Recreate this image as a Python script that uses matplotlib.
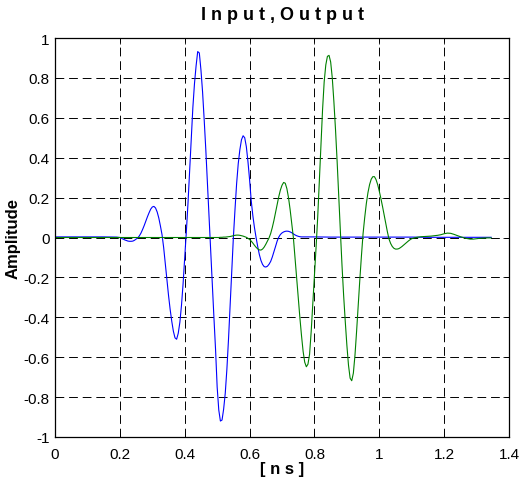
import numpy as np
import matplotlib
matplotlib.use("Agg")
import matplotlib.pyplot as plt


def grid(a, b, step):
    return np.round(np.arange(a, b + step / 2, step), 3)


# --- input pulse (blue) ---
t_in = np.concatenate([grid(0, 0.15, 0.05), [0.19], grid(0.2, 0.76, 0.005),
                       [0.78], grid(0.8, 1.3, 0.05), [1.345]])
v_in = [
    0.003, 0.003, 0.003, 0.003, 0.002,
    0.000, -0.004, -0.008, -0.012, -0.015, -0.018, -0.019, -0.019, -0.018, -0.014,
    -0.008, -0.002, 0.008, 0.022, 0.040, 0.060, 0.082, 0.104, 0.124, 0.142,
    0.153, 0.156, 0.148, 0.128, 0.098, 0.058, 0.014, -0.050, -0.130, -0.215,
    -0.290, -0.360, -0.420, -0.470, -0.503, -0.510, -0.480, -0.425, -0.340, -0.230,
    -0.100, 0.030, 0.170, 0.330, 0.500, 0.650, 0.770, 0.860, 0.932, 0.925,
    0.840, 0.730, 0.590, 0.440, 0.270, 0.100, -0.070, -0.240, -0.400, -0.560,
    -0.750, -0.865, -0.920, -0.915, -0.860, -0.780, -0.660, -0.510, -0.340, -0.170,
    0.000, 0.140, 0.270, 0.370, 0.440, 0.490, 0.510, 0.500, 0.455, 0.380,
    0.290, 0.185, 0.110, 0.050, 0.000, -0.045, -0.085, -0.115, -0.135, -0.146,
    -0.148, -0.144, -0.134, -0.120, -0.098, -0.072, -0.045, -0.018, 0.002, 0.015,
    0.023, 0.028, 0.031, 0.032, 0.031, 0.028, 0.024, 0.018, 0.013, 0.009,
    0.006, 0.004, 0.003,
    0.003, 0.003, 0.002, 0.002, 0.002, 0.002, 0.002, 0.002, 0.001, 0.001,
    0.001, 0.001, 0.001,
]

# --- output pulse (green) ---
t_out = np.concatenate([grid(0, 0.45, 0.05), grid(0.5, 1.1, 0.005),
                        grid(1.11, 1.34, 0.01), [1.345]])
v_out = [
    0.0, 0.0, 0.0, 0.0, 0.0, 0.0, 0.0, 0.0, 0.0, 0.0,
    0.000, 0.000, 0.001, 0.001, 0.002, 0.002, 0.003, 0.004, 0.005, 0.007,
    0.009, 0.011, 0.012, 0.012, 0.011, 0.009, 0.007, 0.004, 0.001, -0.004,
    -0.010, -0.018, -0.028, -0.039, -0.049, -0.057, -0.062, -0.063, -0.058, -0.048,
    -0.034, -0.018, -0.002, 0.020, 0.050, 0.085, 0.125, 0.165, 0.205, 0.238,
    0.262, 0.276, 0.272, 0.245, 0.200, 0.140, 0.072, 0.000, -0.100, -0.200,
    -0.300, -0.400, -0.490, -0.570, -0.625, -0.648, -0.635, -0.585, -0.470, -0.330,
    -0.190, -0.050, 0.100, 0.280, 0.460, 0.640, 0.780, 0.865, 0.908, 0.913,
    0.880, 0.800, 0.680, 0.540, 0.380, 0.200, 0.030, -0.140, -0.290, -0.420,
    -0.540, -0.640, -0.705, -0.718, -0.680, -0.590, -0.470, -0.340, -0.210, -0.090,
    0.020, 0.100, 0.170, 0.225, 0.265, 0.292, 0.305, 0.305, 0.290, 0.265,
    0.232, 0.195, 0.155, 0.112, 0.068, 0.028, -0.008, -0.030, -0.045, -0.054,
    -0.058, -0.058, -0.056, -0.051, -0.045, -0.038, -0.031, -0.024, -0.017, -0.011,
    -0.006,
    -0.001, 0.002, 0.004, 0.005, 0.006, 0.007, 0.009, 0.011, 0.014, 0.019,
    0.022, 0.021, 0.016, 0.010, 0.004, -0.001, -0.005, -0.008, -0.008, -0.006,
    -0.004, -0.003, -0.002, -0.002, -0.002,
]

x_ticks = [0, 0.2, 0.4, 0.6, 0.8, 1.0, 1.2, 1.4]
x_labels = ["0", "0.2", "0.4", "0.6", "0.8", "1", "1.2", "1.4"]
y_ticks = [-1, -0.8, -0.6, -0.4, -0.2, 0, 0.2, 0.4, 0.6, 0.8, 1]
y_labels = ["-1", "-0.8", "-0.6", "-0.4", "-0.2", "0", "0.2", "0.4", "0.6", "0.8", "1"]

plt.rcParams["font.family"] = ["Liberation Sans", "DejaVu Sans"]

fig = plt.figure(figsize=(5.26, 4.81), dpi=100)
ax = fig.add_axes([0.1046, 0.0894, 0.8631, 0.8295])

ax.plot(t_in, v_in, color=(0, 0, 1), lw=0.8)
ax.plot(t_out, v_out, color=(0, 0.5, 0), lw=0.8)

ax.set_xlim(0, 1.4)
ax.set_ylim(-1, 1)
ax.set_xticks(x_ticks)
ax.set_xticklabels(x_labels)
ax.set_yticks(y_ticks)
ax.set_yticklabels(y_labels)
ax.tick_params(direction="in", length=4, width=0.6, labelsize=11,
               top=True, right=True)
ax.tick_params(axis="x", pad=7)
ax.tick_params(axis="y", pad=4)
ax.grid(True, color="black", lw=0.7, linestyle=(0, (9, 5)))
for s in ax.spines.values():
    s.set_linewidth(0.9)

fig.text(0.5362, 0.9688, "I n p u t , O u t p u t",
         ha="center", va="center", fontsize=13, fontweight="bold")
fig.text(0.5362, 0.024, "[ n s ]", ha="center", va="center",
         fontsize=12, fontweight="bold")
fig.text(0.024, 0.5042, "Amplitude", ha="center", va="center", rotation=90,
         fontsize=12, fontweight="bold")

fig.savefig("out.png", dpi=100)
